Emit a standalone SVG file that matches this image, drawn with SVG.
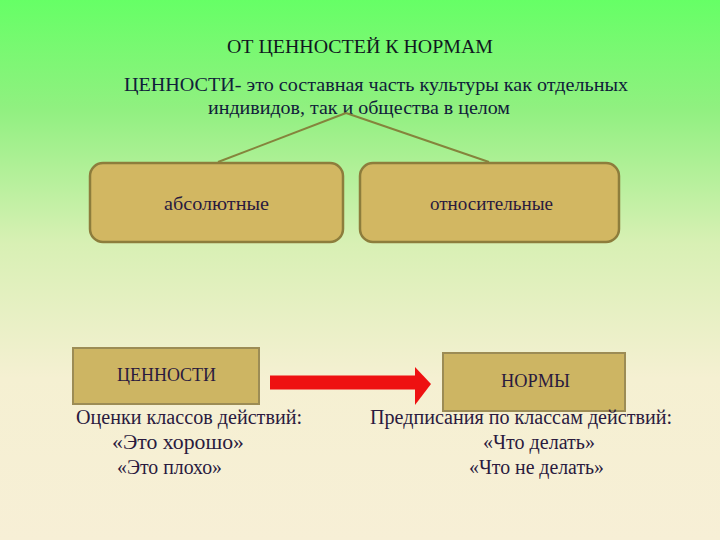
<svg xmlns="http://www.w3.org/2000/svg" width="720" height="540" viewBox="0 0 720 540">
<defs>
<linearGradient id="bg" x1="0" y1="0" x2="0" y2="1">
<stop offset="0" stop-color="#66ff66"/>
<stop offset="0.2" stop-color="#90f080"/>
<stop offset="0.45" stop-color="#d8f0b4"/>
<stop offset="0.7" stop-color="#f5f0d2"/>
<stop offset="1" stop-color="#f7efd6"/>
</linearGradient>
<style>
.c{text-anchor:middle}
.rb{fill:#d2b762;stroke:#8d7d3c;stroke-width:2.5}
.sb{fill:#cdb563;stroke:#9c8c55;stroke-width:2}
</style>
</defs>
<rect width="720" height="540" fill="url(#bg)"/>
<g font-family="Liberation Serif, DejaVu Serif, serif" fill="#2a1a3e" lengthAdjust="spacingAndGlyphs">
<text x="227" y="53" font-size="18" fill="#101820" textLength="266" lengthAdjust="spacingAndGlyphs">ОТ ЦЕННОСТЕЙ К НОРМАМ</text>
<text x="124" y="91" font-size="19" fill="#10203a" textLength="504" lengthAdjust="spacingAndGlyphs">ЦЕННОСТИ- это составная часть культуры как отдельных</text>
<text x="208" y="114" font-size="19" fill="#10203a" textLength="302" lengthAdjust="spacingAndGlyphs">индивидов, так и общества в целом</text>
</g>
<g id="connectors" stroke="#85843c" stroke-width="2" fill="none">
<path d="M346,113 L218,162"/>
<path d="M346,113 L489,162"/>
<path d="M270,382.5 H415" stroke="#ee1111" stroke-width="14"/>
<polygon points="415,367 431,384 415,405" fill="#ee1111" stroke="none"/>
</g>
<g font-family="Liberation Serif, DejaVu Serif, serif" fill="#2a1a3e">
<g id="abs"><rect x="90" y="163" width="253" height="79" rx="13" class="rb"/><text x="164" y="210" font-size="19" textLength="105" lengthAdjust="spacingAndGlyphs">абсолютные</text></g>
<g id="rel"><rect x="360" y="163" width="259" height="79" rx="13" class="rb"/><text x="430" y="210" font-size="19" textLength="123" lengthAdjust="spacingAndGlyphs">относительные</text></g>
<g id="values"><rect x="73" y="348" width="186" height="56" class="sb"/><text x="117" y="381" font-size="18" textLength="99" lengthAdjust="spacingAndGlyphs">ЦЕННОСТИ</text></g>
<g id="norms"><rect x="443" y="353" width="182" height="58" class="sb"/><text x="501" y="387" font-size="18" textLength="69" lengthAdjust="spacingAndGlyphs">НОРМЫ</text></g>
<g id="vtext" font-size="20">
<text x="76" y="424" textLength="226" lengthAdjust="spacingAndGlyphs">Оценки классов действий:</text>
<text x="112" y="449" textLength="132" lengthAdjust="spacingAndGlyphs">«Это хорошо»</text>
<text x="117" y="474" textLength="105" lengthAdjust="spacingAndGlyphs">«Это плохо»</text>
</g>
<g id="ntext" font-size="20">
<text x="370" y="424" textLength="302" lengthAdjust="spacingAndGlyphs">Предписания по классам действий:</text>
<text x="483" y="449" textLength="112" lengthAdjust="spacingAndGlyphs">«Что делать»</text>
<text x="469" y="474" textLength="135" lengthAdjust="spacingAndGlyphs">«Что не делать»</text>
</g>
</g>
</svg>
